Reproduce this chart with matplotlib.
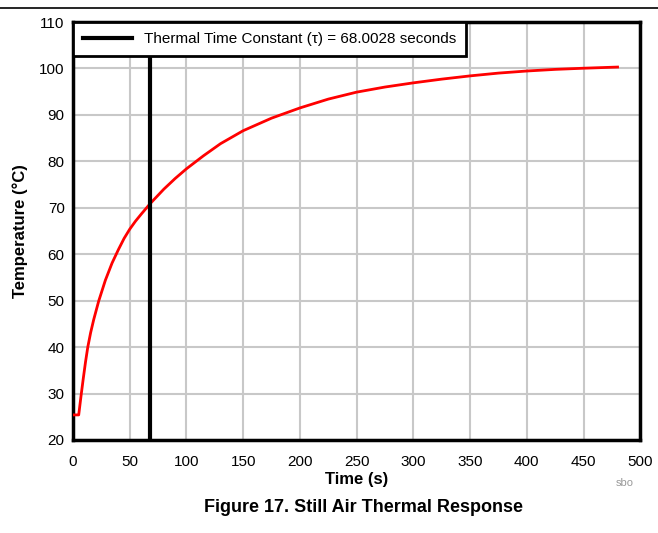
import matplotlib
matplotlib.use('Agg')
import matplotlib.pyplot as plt

plt.rcParams['font.family'] = ['Liberation Sans', 'DejaVu Sans']

# values
time_s = [0, 5, 7, 9, 11, 13, 15.5, 18.2, 22.6, 28.5, 34.4, 40, 45, 50, 55, 60, 68,
          80, 90, 100, 115, 130, 150, 175, 200, 225, 250, 275, 300, 325, 350,
          375, 400, 425, 450, 480]
temp_c = [25.4, 25.4, 29.4, 33.2, 36.8, 40, 43.1, 45.9, 49.9, 54.4, 58.1, 61.0, 63.4,
          65.4, 67.1, 68.6, 70.9, 74.0, 76.3, 78.4, 81.2, 83.8, 86.6, 89.3, 91.5,
          93.4, 94.9, 96.0, 96.9, 97.7, 98.4, 99.0, 99.45, 99.8, 100.05, 100.3]
tau = 68.0028
x_ticks = [0, 50, 100, 150, 200, 250, 300, 350, 400, 450, 500]
y_ticks = [20, 30, 40, 50, 60, 70, 80, 90, 100, 110]

fig = plt.figure(figsize=(6.58, 5.33), dpi=100)
ax = fig.add_axes([0.111, 0.1745, 0.862, 0.7842])

# document separator line at the top
fig.add_artist(plt.Line2D([0, 1], [0.985, 0.985], color='black', lw=1.2))

ax.plot(time_s, temp_c, color='red', lw=2, zorder=3, solid_joinstyle='round')
ax.axvline(tau, color='black', lw=3, zorder=4,
           label='Thermal Time Constant (\u03c4) = %.4f seconds' % tau)

ax.set_xlim(0, 500)
ax.set_ylim(20, 110)
ax.set_xticks(x_ticks)
ax.set_yticks(y_ticks)
ax.grid(True, color='#c8c8c8', lw=1.5)
ax.set_axisbelow(True)
ax.tick_params(length=0, labelsize=11)
ax.tick_params(axis='x', pad=11)
ax.tick_params(axis='y', pad=6)
for s in ax.spines.values():
    s.set_linewidth(2.5)

ax.set_xlabel('Time (s)', fontsize=12, fontweight='bold', labelpad=2)
ax.set_ylabel('Temperature (\u00b0C)', fontsize=12, fontweight='bold', labelpad=8)

leg = ax.legend(loc='upper left', borderaxespad=0, fontsize=11, fancybox=False,
                framealpha=1, edgecolor='black', handlelength=3.2,
                borderpad=0.65, handletextpad=0.8)
leg.get_frame().set_linewidth(2)

fig.text(0.552, 0.047, 'Figure 17. Still Air Thermal Response', ha='center',
         va='center', fontsize=13, fontweight='bold')
fig.text(0.95, 0.094, 'sbo', ha='center', va='center', fontsize=8, color='#999999')

fig.savefig('out.png', dpi=100)
